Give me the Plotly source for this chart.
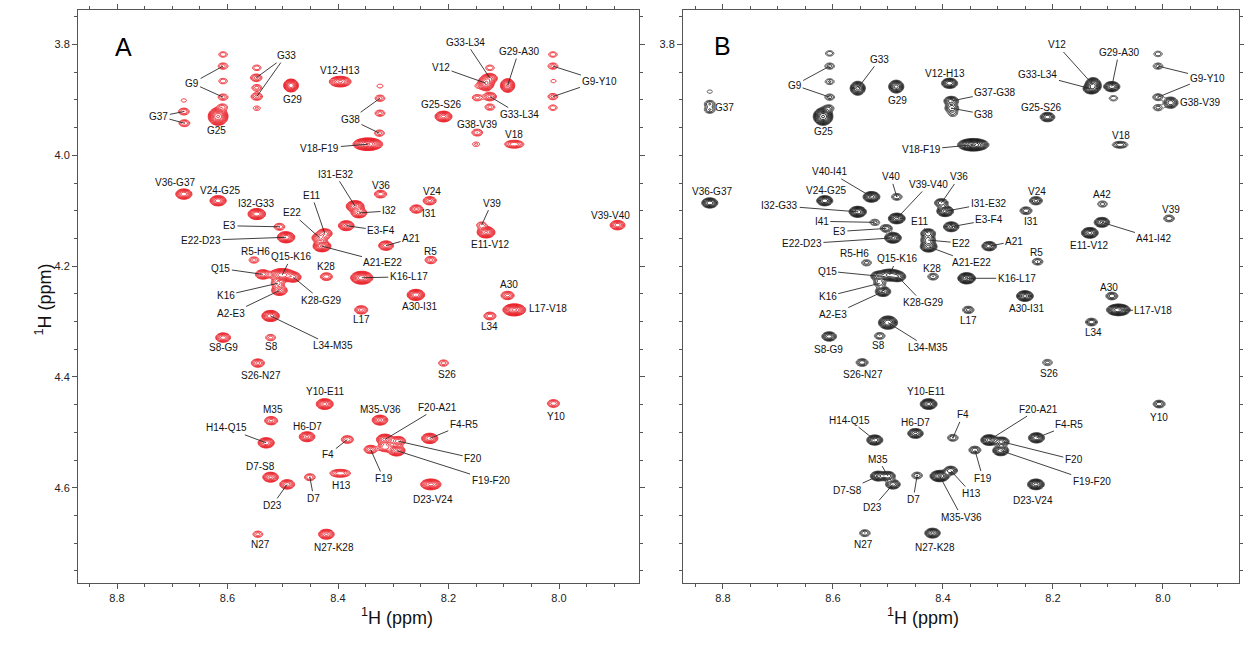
import numpy as np
import plotly.graph_objects as go

# ---------------------------------------------------------------------------
# Cross peaks (1H / 1H, ppm) and relative heights — spectrum A
# ---------------------------------------------------------------------------
A_keys = [
    "G9a", "G9b", "G9c", "G9d", "G9e",
    "G33a", "G33b", "G33c", "G33d", "G33e",
    "G29", "V12-H13", "G37a", "G37b", "G37c", "G25",
    "G38a", "G38b", "G38c", "G38d", "V18-F19",
    "V36-G37", "V24-G25", "I32-G33", "E3", "E22-D23", "R5-H6",
    "Q15", "Q15-K16", "K28-G29", "K16", "A2-E3", "K28",
    "E11", "E22", "A21-E22", "I31-E32", "I32", "E3-F4",
    "K16-L17", "A21", "V36", "V24", "I31", "R5", "A30-I31",
    "V39", "E11-V12", "V39-V40", "A30", "L17-V18", "L34",
    "G25-S26", "G38-V39", "a_gv", "V18",
    "V12", "G33-L34", "a_r1", "a_r2", "G33-L34b", "a_r3", "a_r4", "G29-A30",
    "G9-Y10a", "G9-Y10b", "G9-Y10c", "G9-Y10d", "G9-Y10e",
    "L17", "L34-M35", "S8-G9", "S8", "S26-N27", "Y10-E11", "M35",
    "H14-Q15", "H6-D7", "F4", "D7-S8", "D23", "D7", "H13",
    "N27", "N27-K28", "M35-V36", "F20-A21", "a_f", "F20", "F19-F20",
    "F19", "F4-R5", "D23-V24", "S26", "Y10",
]
A_x = [
    8.608, 8.608, 8.608, 8.608, 8.609,
    8.547, 8.548, 8.547, 8.547, 8.547,
    8.485, 8.396, 8.679, 8.679, 8.678, 8.617,
    8.324, 8.324, 8.324, 8.325, 8.346,
    8.679, 8.617, 8.547, 8.506, 8.494, 8.552,
    8.536, 8.501, 8.481, 8.509, 8.506, 8.421,
    8.424, 8.433, 8.429, 8.369, 8.362, 8.385,
    8.357, 8.313, 8.323, 8.234, 8.258, 8.232, 8.259,
    8.140, 8.132, 7.894, 8.093, 8.081, 8.125,
    8.209, 8.148, 8.150, 8.081,
    8.132, 8.125, 8.125, 8.148, 8.125, 8.125, 8.147, 8.093,
    8.011, 8.011, 8.010, 8.011, 8.011,
    8.358, 8.522, 8.608, 8.522, 8.545, 8.424, 8.521,
    8.530, 8.456, 8.383, 8.522, 8.492, 8.451, 8.396,
    8.545, 8.421, 8.324, 8.315, 8.315, 8.291, 8.294,
    8.341, 8.234, 8.232, 8.209, 8.010,
]
A_y = [
    3.818, 3.839, 3.866, 3.895, 3.913,
    3.842, 3.860, 3.878, 3.894, 3.915,
    3.874, 3.867, 3.901, 3.921, 3.942, 3.930,
    3.875, 3.897, 3.924, 3.960, 3.980,
    4.070, 4.082, 4.106, 4.129, 4.148, 4.189,
    4.215, 4.216, 4.220, 4.231, 4.244, 4.219,
    4.141, 4.149, 4.164, 4.092, 4.104, 4.127,
    4.221, 4.163, 4.070, 4.082, 4.097, 4.189, 4.252,
    4.126, 4.139, 4.126, 4.253, 4.279, 4.290,
    3.930, 3.959, 3.980, 3.980,
    3.870, 3.861, 3.842, 3.896, 3.894, 3.913, 3.875, 3.874,
    3.818, 3.839, 3.866, 3.894, 3.914,
    4.279, 4.290, 4.329, 4.329, 4.375, 4.449, 4.479,
    4.519, 4.508, 4.513, 4.581, 4.594, 4.581, 4.574,
    4.684, 4.684, 4.478, 4.513, 4.527, 4.516, 4.533,
    4.531, 4.511, 4.594, 4.375, 4.448,
]
A_height = [
    2.0, 2.5, 2.0, 2.5, 2.5,
    2.0, 3.5, 2.5, 3.5, 1.6,
    25, 14, 1.3, 3, 3, 40,
    1.4, 2.5, 2.5, 2.5, 40,
    12, 12, 18, 3, 18, 2.5,
    8, 25, 10, 5, 10, 4,
    8, 10, 20, 20, 10, 10,
    25, 8, 4, 5, 5, 3.5, 18,
    2.5, 20, 8, 5, 30, 4,
    15, 3, 1.6, 6,
    20, 8, 2, 2.5, 5, 2.5, 1.3, 20,
    2, 2.5, 1.3, 2.5, 2,
    5, 18, 8, 2.5, 5, 15, 5,
    12, 10, 4, 10, 8, 3, 6,
    2.5, 10, 10, 15, 6, 8, 15,
    5, 12, 15, 2.5, 4,
]

# ---------------------------------------------------------------------------
# Cross peaks — spectrum B
# ---------------------------------------------------------------------------
B_keys = [
    "G37a", "G37b", "G37c",
    "G9a", "G9b", "G9c", "G9d", "G9e",
    "G25", "G33", "G29", "V12-H13", "G37-G38", "G38", "b_g38", "V18-F19",
    "V36-G37", "V24-G25", "V40-I41", "I32-G33", "V40", "V39-V40", "I41",
    "E3", "E22-D23", "E11", "E22", "A21-E22", "R5-H6",
    "Q15", "Q15-K16", "K28-G29", "K16", "A2-E3", "K28",
    "V36", "I31-E32", "E3-F4", "V24", "I31", "A21", "R5",
    "A42", "V39", "A41-I42", "E11-V12", "K16-L17", "A30-I31", "A30",
    "L17-V18", "L17", "L34", "S26", "Y10",
    "F20-A21", "F20", "F19-F20", "F19", "F4-R5", "D23-V24",
    "G25-S26", "V18", "V12", "G33-L34", "G29-A30", "b_ga",
    "G9-Y10a", "G9-Y10b", "G9-Y10c", "G9-Y10d", "G38-V39",
    "S8-G9", "S8", "S26-N27", "L34-M35", "Y10-E11", "H14-Q15", "H6-D7",
    "F4", "M35", "D7-S8", "D23", "D7", "M35-V36", "H13", "N27", "N27-K28",
]
B_x = [
    8.824, 8.824, 8.824,
    8.606, 8.606, 8.606, 8.606, 8.608,
    8.618, 8.555, 8.485, 8.388, 8.385, 8.384, 8.382, 8.345,
    8.824, 8.615, 8.530, 8.555, 8.484, 8.484, 8.524,
    8.503, 8.491, 8.427, 8.427, 8.426, 8.539,
    8.518, 8.497, 8.482, 8.515, 8.509, 8.418,
    8.403, 8.396, 8.385, 8.231, 8.249, 8.316, 8.228,
    8.110, 7.989, 8.111, 8.133, 8.357, 8.251, 8.093,
    8.081, 8.354, 8.130, 8.210, 8.007,
    8.316, 8.293, 8.295, 8.342, 8.230, 8.231,
    8.210, 8.078, 8.127, 8.131, 8.093, 8.090,
    8.009, 8.009, 8.009, 8.009, 7.986,
    8.607, 8.515, 8.547, 8.500, 8.426, 8.524, 8.450,
    8.382, 8.500, 8.518, 8.491, 8.447, 8.406, 8.386, 8.542, 8.419,
]
B_y = [
    3.885, 3.907, 3.918,
    3.816, 3.839, 3.867, 3.895, 3.915,
    3.930, 3.879, 3.876, 3.870, 3.902, 3.915, 3.925, 3.981,
    4.086, 4.082, 4.075, 4.102, 4.075, 4.114, 4.121,
    4.132, 4.149, 4.141, 4.153, 4.165, 4.194,
    4.218, 4.216, 4.219, 4.231, 4.246, 4.219,
    4.086, 4.101, 4.129, 4.082, 4.100, 4.164, 4.192,
    4.088, 4.114, 4.121, 4.140, 4.222, 4.254, 4.254,
    4.279, 4.279, 4.301, 4.374, 4.449,
    4.514, 4.517, 4.533, 4.532, 4.510, 4.594,
    3.931, 3.981, 3.873, 3.880, 3.876, 3.897,
    3.817, 3.839, 3.895, 3.914, 3.905,
    4.327, 4.326, 4.374, 4.302, 4.449, 4.514, 4.502,
    4.510, 4.579, 4.579, 4.594, 4.578, 4.579, 4.569, 4.682, 4.682,
]
B_height = [
    1.3, 3, 3,
    2, 2.5, 2.2, 2.5, 3,
    40, 15, 15, 12, 8, 6, 2, 40,
    12, 12, 15, 18, 3, 15, 2.5,
    4, 15, 8, 8, 15, 2.5,
    8, 15, 10, 4, 10, 3,
    6, 15, 10, 5, 4, 8, 3,
    2.5, 3, 10, 15, 20, 15, 4,
    25, 3.5, 4, 2.5, 4,
    15, 8, 12, 4, 12, 15,
    8, 4, 20, 10, 12, 2,
    2, 2.5, 3, 2.5, 8,
    8, 3, 4, 18, 15, 12, 10,
    3, 8, 10, 8, 3, 20, 6, 3, 10,
]

# ---------------------------------------------------------------------------
# Label placement: (text, peak key, dx px, dy px, mode)
# mode 0 = text only, 1 = text with leader line,
# mode 2 = second leader line from an already placed label
# ---------------------------------------------------------------------------
A_labels = [
    ("G9", "G9b", -31, 17, 1), ("G9", "G9d", -31, -14, 2),
    ("G33", "G33b", 30, -22, 1), ("G33", "G33d", 29, -41, 2),
    ("G29", "G29", 1, 14, 0), ("V12-H13", "V12-H13", 0, -11, 0),
    ("G37", "G37b", -25, 5, 1), ("G37", "G37c", -26, -7, 2),
    ("G25", "G25", -2, 14, 0),
    ("G38", "G38b", -29, 21, 1), ("G38", "G38d", -29, -14, 2),
    ("V18-F19", "V18-F19", -48, 4, 1),
    ("V36-G37", "V36-G37", -9, -12, 0), ("V24-G25", "V24-G25", 2, -10, 0),
    ("I32-G33", "I32-G33", 0, -11, 0), ("E3", "E3", -50, -1, 1),
    ("E22-D23", "E22-D23", -85, 3, 1), ("R5-H6", "R5-H6", 1, -9, 0),
    ("Q15", "Q15", -42, -6, 1), ("Q15-K16", "Q15-K16", 9, -18, 1),
    ("K28-G29", "K28-G29", 28, 23, 1), ("K16", "K16", -52, 12, 1),
    ("A2-E3", "A2-E3", -48, 23, 1), ("K28", "K28", 0, -10, 0),
    ("E11", "E11", -13, -38, 1), ("E22", "E22", -28, -25, 1),
    ("A21-E22", "A21-E22", 61, 16, 1), ("I31-E32", "I31-E32", -20, -32, 1),
    ("I32", "I32", 30, -2, 1), ("E3-F4", "E3-F4", 35, 5, 1),
    ("K16-L17", "K16-L17", 47, -1, 1), ("A21", "A21", 25, -7, 1),
    ("V36", "V36", 0, -9, 0), ("V24", "V24", 2, -9, 0), ("I31", "I31", 13, 4, 0),
    ("R5", "R5", 0, -9, 0), ("A30-I31", "A30-I31", 4, 12, 0),
    ("V39", "V39", 10, -22, 1), ("E11-V12", "E11-V12", 4, 12, 0),
    ("V39-V40", "V39-V40", -7, -10, 0), ("A30", "A30", 1, -11, 0),
    ("L17-V18", "L17-V18", 34, -1, 0), ("L34", "L34", 0, 11, 0),
    ("G25-S26", "G25-S26", -3, -12, 0), ("G38-V39", "G38-V39", 0, -8, 0),
    ("V18", "V18", 0, -10, 0), ("V12", "V12", -45, -16, 1),
    ("G33-L34", "G33-L34", -24, -36, 1), ("G33-L34", "G33-L34b", 30, 18, 1),
    ("G29-A30", "G29-A30", 11, -34, 1),
    ("G9-Y10", "G9-Y10b", 47, 15, 1), ("G9-Y10", "G9-Y10d", 47, -16, 2),
    ("L17", "L17", 0, 10, 0), ("L34-M35", "L34-M35", 62, 30, 1),
    ("S8-G9", "S8-G9", 0, 10, 0), ("S8", "S8", 1, 9, 0),
    ("S26-N27", "S26-N27", 3, 12, 0), ("Y10-E11", "Y10-E11", 1, -13, 0),
    ("M35", "M35", 2, -11, 0), ("H14-Q15", "H14-Q15", -40, -15, 1),
    ("H6-D7", "H6-D7", 0, -10, 0), ("F4", "F4", -19, 15, 1),
    ("D7-S8", "D7-S8", -10, -11, 0), ("D23", "D23", -15, 21, 1),
    ("D7", "D7", 4, 21, 1), ("H13", "H13", 1, 12, 0),
    ("N27", "N27", 3, 10, 0), ("N27-K28", "N27-K28", 8, 13, 0),
    ("M35-V36", "M35-V36", 1, -11, 0), ("F20-A21", "F20-A21", 53, -32, 1),
    ("F20", "F20", 75, 17, 1), ("F19-F20", "F19-F20", 94, 30, 1),
    ("F19", "F19", 13, 29, 1), ("F4-R5", "F4-R5", 34, -14, 1),
    ("D23-V24", "D23-V24", 2, 15, 0), ("S26", "S26", 3, 11, 0),
    ("Y10", "Y10", 3, 13, 0),
]

B_labels = [
    ("G37", "G37c", 15, -2, 0),
    ("G9", "G9b", -35, 19, 1), ("G9", "G9d", -35, -12, 2),
    ("G25", "G25", 0, 15, 0), ("G33", "G33", 22, -29, 1),
    ("G29", "G29", 1, 14, 0), ("V12-H13", "V12-H13", -5, -10, 0),
    ("G37-G38", "G37-G38", 44, -9, 1), ("G38", "G38", 32, 6, 1),
    ("V18-F19", "V18-F19", -52, 5, 1),
    ("V36-G37", "V36-G37", 2, -11, 0), ("V24-G25", "V24-G25", 1, -10, 0),
    ("V40-I41", "V40-I41", -42, -25, 1), ("I32-G33", "I32-G33", -78, -6, 1),
    ("V40", "V40", -6, -20, 1), ("V39-V40", "V39-V40", 32, -34, 1),
    ("I41", "I41", -53, -1, 1), ("E3", "E3", -47, 3, 1),
    ("E22-D23", "E22-D23", -91, 6, 1), ("E11", "E11", -9, -12, 1),
    ("E22", "E22", 33, 3, 1), ("A21-E22", "A21-E22", 43, 16, 1),
    ("R5-H6", "R5-H6", -12, -9, 0), ("Q15", "Q15", -51, -5, 1),
    ("Q15-K16", "Q15-K16", 7, -16, 1), ("K28-G29", "K28-G29", 25, 26, 1),
    ("K16", "K16", -52, 13, 1), ("A2-E3", "A2-E3", -50, 23, 1),
    ("K28", "K28", -1, -8, 0), ("V36", "V36", 18, -26, 1),
    ("I31-E32", "I31-E32", 43, -8, 1), ("E3-F4", "E3-F4", 38, -7, 1),
    ("V24", "V24", 1, -9, 0), ("I31", "I31", 5, 11, 0),
    ("A21", "A21", 25, -5, 1), ("R5", "R5", -1, -9, 0),
    ("A42", "A42", 0, -10, 0), ("V39", "V39", 2, -9, 0),
    ("A41-I42", "A41-I42", 52, 16, 1), ("E11-V12", "E11-V12", 0, 13, 0),
    ("K16-L17", "K16-L17", 50, 0, 1), ("A30-I31", "A30-I31", 2, 12, 0),
    ("A30", "A30", -3, -9, 0), ("L17-V18", "L17-V18", 35, 1, 1),
    ("L17", "L17", 0, 11, 0), ("L34", "L34", 2, 10, 0),
    ("S26", "S26", 2, 11, 0), ("Y10", "Y10", 0, 13, 0),
    ("F20-A21", "F20-A21", 49, -31, 1), ("F20", "F20", 72, 18, 1),
    ("F19-F20", "F19-F20", 91, 31, 1), ("F19", "F19", 8, 28, 1),
    ("F4-R5", "F4-R5", 33, -13, 1), ("D23-V24", "D23-V24", -3, 16, 0),
    ("G25-S26", "G25-S26", -6, -10, 0), ("V18", "V18", 1, -9, 0),
    ("V12", "V12", -36, -40, 1), ("G33-L34", "G33-L34", -53, -14, 1),
    ("G29-A30", "G29-A30", 7, -34, 1),
    ("G9-Y10", "G9-Y10b", 49, 12, 1), ("G9-Y10", "G9-Y10c", 49, -20, 2),
    ("G38-V39", "G38-V39", 29, 0, 0),
    ("S8-G9", "S8-G9", -1, 13, 0), ("S8", "S8", -1, 10, 0),
    ("S26-N27", "S26-N27", 1, 12, 0), ("L34-M35", "L34-M35", 40, 25, 1),
    ("Y10-E11", "Y10-E11", -2, -13, 0), ("H14-Q15", "H14-Q15", -25, -20, 1),
    ("H6-D7", "H6-D7", 0, -11, 0), ("F4", "F4", 10, -23, 1),
    ("M35", "M35", -10, -17, 1), ("D7-S8", "D7-S8", -31, 14, 1),
    ("D23", "D23", -20, 23, 1), ("D7", "D7", -4, 24, 1),
    ("M35-V36", "M35-V36", 22, 41, 1), ("H13", "H13", 21, 23, 1),
    ("N27", "N27", -1, 11, 0), ("N27-K28", "N27-K28", 2, 14, 0),
]

# Peak shape (line-width multipliers in x / y) for the non-round peaks
A_shape = {
    "G29": (0.8, 1.1), "V12-H13": (1.3, 1.0), "G25": (1.0, 1.4),
    "V18-F19": (1.5, 1.0), "L17-V18": (1.2, 1.0), "Q15-K16": (1.4, 1.1),
    "H13": (1.5, 0.9), "V18": (1.4, 0.9), "V12": (0.9, 1.3),
    "G29-A30": (0.8, 1.2), "K16-L17": (1.2, 1.1), "D23-V24": (1.2, 1.0),
}
B_shape = {
    "G25": (1.0, 1.4), "V18-F19": (1.6, 1.0), "L17-V18": (1.3, 1.0),
    "G33": (0.9, 1.3), "G29": (0.9, 1.2), "V12": (0.9, 1.3),
    "G38-V39": (1.0, 1.2), "V18": (1.3, 0.9), "M35-V36": (1.1, 1.0),
    "Q15-K16": (1.4, 1.1), "L34-M35": (1.1, 1.2),
}

# ---------------------------------------------------------------------------
# Figure geometry
# ---------------------------------------------------------------------------
W, H = 1244, 648
FRAME_A = (78, 639)
FRAME_B = (683, 1239)
FRAME_TOP, FRAME_BOT = 10, 583
XR_A = [8.8706, 7.8552]
XR_B = [8.8727, 7.8618]
YR = [4.772, 3.7377]
SX, SY = 0.0066, 0.0042          # base Gaussian widths (ppm)
LOG_STEP = 0.36                  # contour level spacing (natural log)
FONT = "Liberation Sans, Arial, Helvetica, sans-serif"
LEADER = "#2a2a2a"


def spectrum(keys, xs, ys, hs, shape, xr):
    gx = np.linspace(min(xr), max(xr), 640)
    gy = np.linspace(min(YR), max(YR), 640)
    X, Y = np.meshgrid(gx, gy)
    Z = np.zeros_like(X)
    for k, x0, y0, h in zip(keys, xs, ys, hs):
        fx, fy = shape.get(k, (1.0, 1.0))
        sx, sy = SX * fx, SY * fy
        Z += h * np.exp(-0.5 * ((X - x0) / sx) ** 2 - 0.5 * ((Y - y0) / sy) ** 2)
    Zl = np.log(np.maximum(Z, 0.05))
    return gx, gy, Zl.astype(np.float32)


fig = go.Figure()

gx, gy, za = spectrum(A_keys, A_x, A_y, A_height, A_shape, XR_A)
fig.add_trace(go.Contour(
    x=gx, y=gy, z=za, xaxis="x", yaxis="y",
    autocontour=False,
    contours=dict(start=0.0, end=4.4, size=LOG_STEP, coloring="lines"),
    colorscale=[[0, "rgb(235,30,38)"], [1, "rgb(225,20,30)"]],
    zmin=0, zmax=4.4, showscale=False,
    line=dict(width=0.9, smoothing=1), hoverinfo="skip",
))

gx, gy, zb = spectrum(B_keys, B_x, B_y, B_height, B_shape, XR_B)
fig.add_trace(go.Contour(
    x=gx, y=gy, z=zb, xaxis="x2", yaxis="y2",
    autocontour=False,
    contours=dict(start=0.0, end=4.4, size=LOG_STEP, coloring="lines"),
    colorscale=[[0, "#5a5a5a"], [0.15, "#1c1c1c"], [1, "#141414"]],
    zmin=0, zmax=4.4, showscale=False,
    line=dict(width=1.0, smoothing=1), hoverinfo="skip",
))


def peak_lookup(keys, xs, ys):
    return {k: (x, y) for k, x, y in zip(keys, xs, ys)}


def label_items(labels, lookup, xref, yref, xr, frame):
    """Text annotations plus extra leader segments for multi-pointer labels."""
    ppx = (xr[0] - xr[1]) / (frame[1] - frame[0])          # ppm per pixel, x
    ppy = (YR[0] - YR[1]) / (FRAME_BOT - FRAME_TOP)        # ppm per pixel, y
    anns, shapes = [], []
    for text, key, dx, dy, mode in labels:
        px, py = lookup[key]
        if mode == 2:
            # clip the segment at the edge of the label's text box
            hw, hh = 3.0 * len(text) + 2, 7.0
            t = min(hw / abs(dx) if dx else 1e9, hh / abs(dy) if dy else 1e9)
            sx_, sy_ = dx * (1 - t), dy * (1 - t)
            shapes.append(dict(type="line", xref=xref, yref=yref,
                               x0=px - sx_ * ppx, y0=py + sy_ * ppy,
                               x1=px, y1=py,
                               line=dict(color=LEADER, width=0.9)))
            continue
        base = dict(x=px, y=py, xref=xref, yref=yref, text=text,
                    font=dict(family=FONT, size=10, color="#111111"))
        if mode == 0:
            base.update(showarrow=False, xshift=dx, yshift=-dy)
        else:
            base.update(showarrow=True, ax=dx, ay=dy, arrowhead=0,
                        arrowwidth=0.9, arrowcolor=LEADER, standoff=0)
        anns.append(base)
    return anns, shapes


annA, shpA = label_items(A_labels, peak_lookup(A_keys, A_x, A_y), "x", "y", XR_A, FRAME_A)
annB, shpB = label_items(B_labels, peak_lookup(B_keys, B_x, B_y), "x2", "y2", XR_B, FRAME_B)
annotations = annA + annB

# Panel letters and axis titles
annotations += [
    dict(text="A", x=113 / W, y=1 - 31 / H, xref="paper", yref="paper",
         showarrow=False, font=dict(family=FONT, size=25, color="#000")),
    dict(text="B", x=722 / W, y=1 - 30 / H, xref="paper", yref="paper",
         showarrow=False, font=dict(family=FONT, size=25, color="#000")),
    dict(text="<sup>1</sup>H (ppm)", x=(FRAME_A[0] + FRAME_A[1]) / 2 / W,
         y=1 - 630 / H, xref="paper", yref="paper", showarrow=False,
         font=dict(family=FONT, size=18, color="#111")),
    dict(text="<sup>1</sup>H (ppm)", x=(FRAME_B[0] + FRAME_B[1]) / 2 / W,
         y=1 - 630 / H, xref="paper", yref="paper", showarrow=False,
         font=dict(family=FONT, size=18, color="#111")),
    dict(text="<sup>1</sup>H (ppm)", x=30 / W, y=1 - 300 / H,
         xref="paper", yref="paper", showarrow=False, textangle=-90,
         font=dict(family=FONT, size=18, color="#111")),
]

axis_common = dict(
    showline=True, linecolor="#555", linewidth=1, mirror="ticks",
    ticks="outside", ticklen=5, tickwidth=1, tickcolor="#555",
    showgrid=False, zeroline=False,
    tickfont=dict(family=FONT, size=11, color="#222"),
    minor=dict(dtick=0.05, ticks="outside", ticklen=3, tickwidth=1,
               tickcolor="#555", showgrid=False),
)
ydom = [1 - FRAME_BOT / H, 1 - FRAME_TOP / H]

fig.update_layout(
    width=W, height=H,
    margin=dict(l=0, r=0, t=0, b=0),
    paper_bgcolor="white", plot_bgcolor="white",
    showlegend=False,
    xaxis=dict(axis_common, domain=[FRAME_A[0] / W, FRAME_A[1] / W],
               range=XR_A, dtick=0.2, tick0=8.0, tickformat=".1f", anchor="y"),
    yaxis=dict(axis_common, domain=ydom, range=YR, dtick=0.2, tick0=3.8,
               tickformat=".1f", anchor="x"),
    xaxis2=dict(axis_common, domain=[FRAME_B[0] / W, FRAME_B[1] / W],
                range=XR_B, dtick=0.2, tick0=8.0, tickformat=".1f", anchor="y2"),
    yaxis2=dict(axis_common, domain=ydom, range=YR,
                tickmode="array", tickvals=[3.8], ticktext=["3.8"], anchor="x2"),
    annotations=annotations,
    shapes=shpA + shpB,
)

fig.write_html("out.html")
